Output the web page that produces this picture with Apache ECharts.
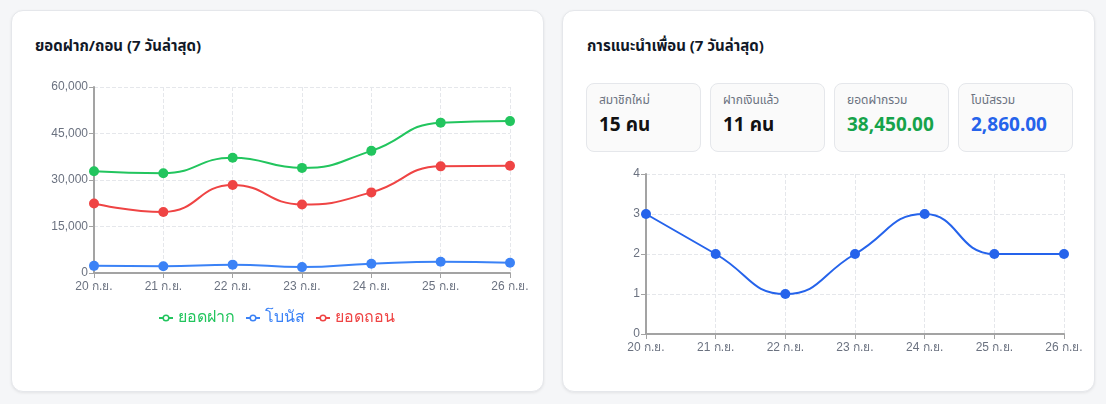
<!DOCTYPE html>
<html>
<head>
<meta charset="utf-8">
<script src="https://cdn.jsdelivr.net/npm/echarts@6/dist/echarts.min.js"></script>
<style>
  html, body { margin: 0; padding: 0; background: #f5f6f8; width: 1106px; height: 404px; overflow: hidden; font-family: "Noto Sans", "Noto Sans Thai", sans-serif; }
  .card { position: absolute; top: 10px; width: 533px; height: 382px; background: #fff; border: 1px solid #e5e7eb; border-radius: 12px; box-shadow: 0 1px 3px rgba(0,0,0,0.08); box-sizing: border-box; }
  .title { position: absolute; top: 34px; font-size: 15px; font-weight: 700; color: #111827; line-height: 22px; white-space: nowrap; }
  .stat { position: absolute; top: 83px; height: 69px; width: 115px; background: #fafafa; border: 1px solid #e5e7eb; border-radius: 8px; box-sizing: border-box; }
  .stat .lbl { position: absolute; left: 12px; top: 7px; font-size: 12px; color: #6b7280; white-space: nowrap; }
  .stat .val { position: absolute; left: 12px; top: 27px; font-size: 19px; font-weight: 700; color: #111; white-space: nowrap; }
  #chart { position: absolute; left: 0; top: 0; width: 1106px; height: 404px; }
</style>
</head>
<body>
<div class="card" style="left:11px;"></div>
<div class="card" style="left:562px;"></div>
<div class="title" style="left:35px;">ยอดฝาก/ถอน (7 วันล่าสุด)</div>
<div class="title" style="left:587px;">การแนะนำเพื่อน (7 วันล่าสุด)</div>
<div class="stat" style="left:586px;"><div class="lbl">สมาชิกใหม่</div><div class="val">15 คน</div></div>
<div class="stat" style="left:710px;"><div class="lbl">ฝากเงินแล้ว</div><div class="val">11 คน</div></div>
<div class="stat" style="left:834px;"><div class="lbl">ยอดฝากรวม</div><div class="val" style="color:#16a34a;">38,450.00</div></div>
<div class="stat" style="left:958px;"><div class="lbl">โบนัสรวม</div><div class="val" style="color:#2563eb;">2,860.00</div></div>
<div id="chart"></div>
<script>
const categories = ['20 ก.ย.', '21 ก.ย.', '22 ก.ย.', '23 ก.ย.', '24 ก.ย.', '25 ก.ย.', '26 ก.ย.'];
const deposits = [32800, 32200, 37200, 33900, 39400, 48500, 49000];
const bonuses = [2300, 2200, 2700, 1900, 3000, 3650, 3300];
const withdrawals = [22400, 19700, 28400, 22100, 26000, 34400, 34600];
const referrals = [3, 2, 1, 2, 3, 2, 2];
const seriesNames = ['ยอดฝาก', 'โบนัส', 'ยอดถอน'];
const seriesColors = ['#22c55e', '#3b82f6', '#ef4444'];

const axisLabelStyle = { color: '#6b7280', fontSize: 12 };
const axisLineStyle = { show: true, lineStyle: { color: '#a3a3a3', width: 2 } };
const splitStyle = { show: true, lineStyle: { color: '#e5e7eb', type: 'dashed', width: 1 } };

function lineSeries(name, data, color, xi, yi) {
  return {
    name: name, type: 'line', data: data, xAxisIndex: xi, yAxisIndex: yi,
    smooth: true, symbol: 'circle', symbolSize: 10,
    itemStyle: { color: color },
    lineStyle: { color: color, width: 2 }
  };
}

const chart = echarts.init(document.getElementById('chart'), null, { renderer: 'canvas' });
chart.setOption({
  backgroundColor: 'transparent',
  animation: false,
  grid: [
    { left: 94, right: 596, top: 87, height: 186, containLabel: false },
    { left: 646, right: 42, top: 174, height: 160, containLabel: false }
  ],
  legend: {
    data: seriesNames.map((n, i) => ({
      name: n,
      textStyle: { color: seriesColors[i] },
      itemStyle: { color: '#fff', borderColor: seriesColors[i], borderWidth: 1.5 },
      lineStyle: { color: seriesColors[i], width: 2 }
    })),
    left: 153, top: 305,
    itemWidth: 14, itemHeight: 7, itemGap: 10,
    textStyle: { fontSize: 16 }
  },
  xAxis: [
    { type: 'category', gridIndex: 0, data: categories, boundaryGap: false,
      axisLine: axisLineStyle, axisTick: { show: true, lineStyle: { color: '#a3a3a3' } },
      axisLabel: Object.assign({ margin: 8, interval: 0 }, axisLabelStyle), splitLine: splitStyle },
    { type: 'category', gridIndex: 1, data: categories, boundaryGap: false,
      axisLine: axisLineStyle, axisTick: { show: true, lineStyle: { color: '#a3a3a3' } },
      axisLabel: Object.assign({ margin: 8, interval: 0 }, axisLabelStyle), splitLine: splitStyle }
  ],
  yAxis: [
    { type: 'value', gridIndex: 0, min: 0, max: 60000, interval: 15000,
      axisLine: axisLineStyle, axisTick: { show: true, lineStyle: { color: '#a3a3a3' } },
      axisLabel: Object.assign({ margin: 6, formatter: v => v.toLocaleString('en-US') }, axisLabelStyle), splitLine: splitStyle },
    { type: 'value', gridIndex: 1, min: 0, max: 4, interval: 1,
      axisLine: axisLineStyle, axisTick: { show: true, lineStyle: { color: '#a3a3a3' } },
      axisLabel: Object.assign({ margin: 6 }, axisLabelStyle), splitLine: splitStyle }
  ],
  series: [
    lineSeries(seriesNames[0], deposits, seriesColors[0], 0, 0),
    lineSeries(seriesNames[1], bonuses, seriesColors[1], 0, 0),
    lineSeries(seriesNames[2], withdrawals, seriesColors[2], 0, 0),
    lineSeries('การแนะนำ', referrals, '#2563eb', 1, 1)
  ]
});
</script>
</body>
</html>
